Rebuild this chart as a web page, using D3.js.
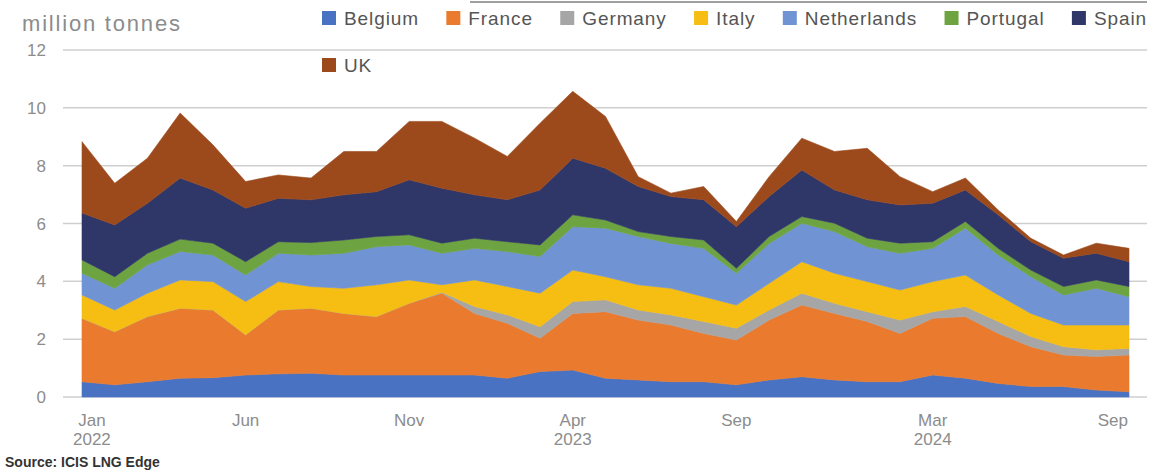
<!DOCTYPE html>
<html>
<head>
<meta charset="utf-8">
<script src="https://cdn.jsdelivr.net/npm/d3@7"></script>
<style>
  html, body { margin: 0; padding: 0; background: #ffffff; }
  svg { display: block; }
</style>
</head>
<body>
<svg id="chart" width="1168" height="472"></svg>
<script>
// Monthly LNG imports by country, million tonnes
const months = [
  "2022-01","2022-02","2022-03","2022-04","2022-05","2022-06","2022-07","2022-08","2022-09","2022-10","2022-11","2022-12",
  "2023-01","2023-02","2023-03","2023-04","2023-05","2023-06","2023-07","2023-08","2023-09","2023-10","2023-11","2023-12",
  "2024-01","2024-02","2024-03","2024-04","2024-05","2024-06","2024-07","2024-08","2024-09"
];
const belgium     = [0.53,0.42,0.53,0.65,0.67,0.76,0.80,0.82,0.76,0.76,0.76,0.76, 0.76,0.65,0.88,0.93,0.65,0.59,0.53,0.53,0.42,0.59,0.70,0.59, 0.53,0.53,0.76,0.65,0.47,0.36,0.36,0.24,0.18];
const france      = [2.19,1.84,2.25,2.42,2.34,1.39,2.21,2.25,2.13,2.02,2.48,2.83, 2.13,1.90,1.15,1.96,2.30,2.07,1.96,1.67,1.55,2.07,2.48,2.30, 2.08,1.67,1.96,2.13,1.73,1.38,1.09,1.16,1.27];
const germany     = [0,0,0,0,0,0,0,0,0,0,0,0.03, 0.24,0.29,0.40,0.41,0.41,0.35,0.35,0.41,0.41,0.35,0.41,0.35, 0.34,0.46,0.23,0.35,0.41,0.35,0.29,0.23,0.23];
const italy       = [0.81,0.75,0.81,0.98,0.98,1.15,0.98,0.75,0.87,1.10,0.81,0.26, 0.92,0.98,1.16,1.09,0.80,0.87,0.92,0.86,0.80,0.92,1.09,1.04, 1.04,1.04,1.04,1.09,0.92,0.80,0.75,0.86,0.81];
const netherlands = [0.75,0.75,0.98,0.98,0.92,0.92,0.98,1.09,1.21,1.32,1.21,1.09, 1.09,1.21,1.27,1.50,1.68,1.67,1.55,1.67,1.10,1.38,1.33,1.44, 1.21,1.27,1.15,1.62,1.38,1.27,1.04,1.27,0.98];
const portugal    = [0.46,0.40,0.40,0.43,0.41,0.46,0.40,0.43,0.46,0.35,0.35,0.35, 0.35,0.34,0.40,0.41,0.28,0.17,0.24,0.29,0.17,0.24,0.23,0.29, 0.29,0.35,0.23,0.23,0.23,0.23,0.29,0.29,0.35];
const spain       = [1.62,1.79,1.73,2.11,1.84,1.85,1.50,1.48,1.56,1.55,1.90,1.90, 1.50,1.45,1.90,1.96,1.79,1.56,1.38,1.39,1.44,1.38,1.61,1.15, 1.33,1.32,1.33,1.09,1.16,0.98,0.98,0.92,0.86];
const uk          = [2.47,1.44,1.56,2.25,1.56,0.92,0.81,0.75,1.50,1.39,2.02,2.31, 1.96,1.50,2.31,2.31,1.79,0.34,0.12,0.46,0.18,0.69,1.10,1.33, 1.78,0.98,0.40,0.41,0.17,0.12,0.11,0.35,0.46];

const seriesNames  = ["Belgium","France","Germany","Italy","Netherlands","Portugal","Spain","UK"];
const seriesValues = [belgium, france, germany, italy, netherlands, portugal, spain, uk];
const seriesColors = ["#4a72c2","#ea7a2e","#a6a6a6","#f6be12","#7093d4","#6ea342","#2f3668","#9c4a1c"];

const yTicks = [0, 2, 4, 6, 8, 10, 12];
const xTickMonths = ["2022-01","2022-06","2022-11","2023-04","2023-09","2024-03","2024-09"];
const xTickLabels = [["Jan","2022"],["Jun"],["Nov"],["Apr","2023"],["Sep"],["Mar","2024"],["Sep"]];

const unitLabel = "million tonnes";
const sourceLabel = "Source: ICIS LNG Edge";

// ---- layout ----
const W = 1168, H = 472;
const plot = { left: 82, right: 1129, top: 50, bottom: 397 };
const gridX0 = 63, gridX1 = 1147;
const labelMinX = 73, labelMaxX = 1128;
const textGray = "#8c8c8c";
const fontFamily = "'Liberation Sans', Arial, sans-serif";

const svg = d3.select("#chart");

const x = d3.scalePoint().domain(months).range([plot.left, plot.right]);
const y = d3.scaleLinear().domain([0, 12]).range([plot.bottom, plot.top]);

// rows for the stack
const rows = months.map((m, i) => {
  const r = { month: m };
  seriesNames.forEach((n, k) => { r[n] = seriesValues[k][i]; });
  return r;
});
const stacked = d3.stack().keys(seriesNames)(rows);

// gridlines
const grid = svg.append("g");
grid.selectAll("line").data(yTicks).join("line")
  .attr("x1", gridX0).attr("x2", gridX1)
  .attr("y1", d => y(d)).attr("y2", d => y(d))
  .attr("stroke", "#cfcfcf").attr("stroke-width", 1.5);

// y tick labels
svg.append("g").selectAll("text").data(yTicks).join("text")
  .attr("x", 46).attr("y", d => y(d))
  .attr("dy", "0.36em")
  .attr("text-anchor", "end")
  .attr("font-family", fontFamily).attr("font-size", 17)
  .attr("fill", textGray)
  .text(d => d);

// stacked areas
const area = d3.area()
  .x(d => x(d.data.month))
  .y0(d => y(d[0]))
  .y1(d => y(d[1]))
  .curve(d3.curveLinear);

svg.append("g").selectAll("path").data(stacked).join("path")
  .attr("d", area)
  .attr("fill", (d, i) => seriesColors[i])
  .attr("stroke", (d, i) => seriesColors[i])
  .attr("stroke-width", 0.6)
  .attr("stroke-linejoin", "round");

// x axis labels (clamped to the plot edges)
const xLab = svg.append("g");
xTickMonths.forEach((m, i) => {
  const t = xLab.append("text")
    .attr("font-family", fontFamily).attr("font-size", 17)
    .attr("fill", textGray)
    .attr("text-anchor", "middle");
  xTickLabels[i].forEach((line, j) => {
    t.append("tspan").attr("x", 0).attr("y", 426 + j * 19).text(line);
  });
  const w = t.node().getBBox().width;
  let cx = x(m);
  if (cx - w / 2 < labelMinX) cx = labelMinX + w / 2;
  if (cx + w / 2 > labelMaxX) cx = labelMaxX - w / 2;
  t.selectAll("tspan").attr("x", cx);
});

// unit label
svg.append("text")
  .attr("x", 22).attr("y", 31)
  .attr("font-family", fontFamily).attr("font-size", 22)
  .attr("letter-spacing", 1.8)
  .attr("fill", textGray)
  .text(unitLabel);

// thin rule across the top
svg.append("line")
  .attr("x1", 470).attr("x2", gridX1)
  .attr("y1", 2).attr("y2", 2)
  .attr("stroke", "#a0a0a0").attr("stroke-width", 2);

// legend: first seven entries on one row, the last wraps below
const legend = svg.append("g");
const sw = 14, swGap = 8;
const legendX0 = 322, legendX1 = 1147;
const row1 = seriesNames.slice(0, 7);
const items = seriesNames.map((n, i) => {
  const g = legend.append("g");
  g.append("rect").attr("width", sw).attr("height", sw).attr("y", -sw / 2)
    .attr("fill", seriesColors[i]);
  const t = g.append("text").attr("x", sw + swGap).attr("dy", "0.36em")
    .attr("font-family", fontFamily).attr("font-size", 19)
    .attr("letter-spacing", 0.9)
    .attr("fill", "#555555").text(n);
  return { g, w: sw + swGap + t.node().getComputedTextLength() };
});
const used = items.slice(0, 7).reduce((s, it) => s + it.w, 0);
const spacing = (legendX1 - legendX0 - used) / (row1.length - 1);
let lx = legendX0;
items.forEach((it, i) => {
  if (i < 7) {
    it.g.attr("transform", `translate(${lx},18)`);
    lx += it.w + spacing;
  } else {
    it.g.attr("transform", `translate(${legendX0},65)`);
  }
});

// source note
svg.append("text")
  .attr("x", 5).attr("y", 467)
  .attr("font-family", fontFamily).attr("font-size", 14)
  .attr("font-weight", 600)
  .attr("fill", "#333333")
  .text(sourceLabel);
</script>
</body>
</html>
